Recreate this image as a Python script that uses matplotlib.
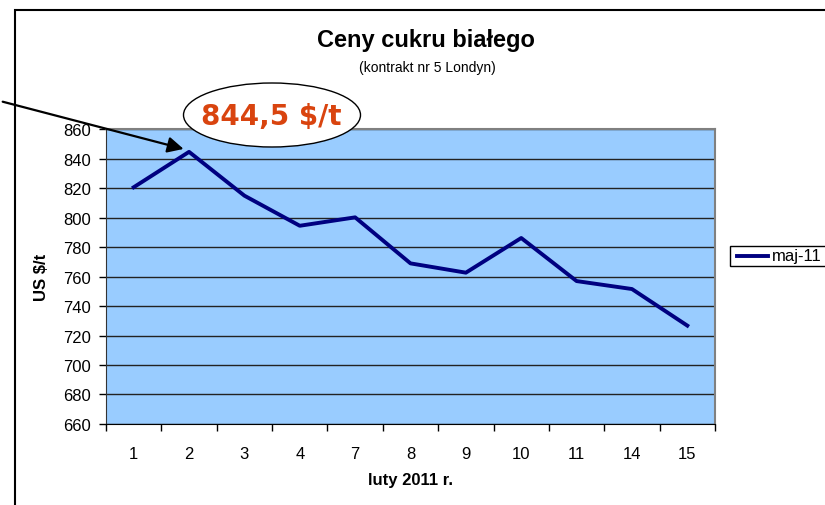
import numpy as np
import matplotlib
matplotlib.use("Agg")
import matplotlib.pyplot as plt
from matplotlib.patches import Ellipse, Rectangle
from matplotlib.lines import Line2D

plt.rcParams['font.family'] = ['Liberation Sans', 'DejaVu Sans']

# data
days = ["1", "2", "3", "4", "7", "8", "9", "10", "11", "14", "15"]
prices = [820.5, 844.5, 814.8, 794.4, 800.1, 768.9, 762.6, 786.1, 756.9, 751.5, 726.7]
series_name = "maj-11"
peak_label = "844,5 $/t"
yticks = np.arange(660, 861, 20)

W, H = 825, 506
fig = plt.figure(figsize=(W/100, H/100), dpi=100)
ax = fig.add_axes([106/W, 1-425/H, 609/W, 295/H])
ax.set_facecolor('#99CCFF')

x = np.arange(len(days))
line, = ax.plot(x, prices, color='#000080', lw=2.8, label=series_name, zorder=3)

ax.set_xlim(-0.5, len(days)-0.5)
ax.set_ylim(660, 860)
ax.set_yticks(yticks)
ax.tick_params(axis='y', length=5, width=1, pad=6, labelsize=12, colors='black')
# ticks at category boundaries, labels at centers
ax.set_xticks(np.arange(-0.5, len(days)), labels=[])
ax.set_xticks(x, labels=days, minor=True)
ax.tick_params(axis='x', which='major', length=5, width=1)
ax.tick_params(axis='x', which='minor', length=0, pad=16, labelsize=12)
ax.yaxis.grid(True, color='#222222', lw=1)
ax.set_axisbelow(True)
for s in ['top', 'right']:
    ax.spines[s].set_color('#808080')
    ax.spines[s].set_linewidth(1.5)
ax.spines['left'].set_color('#333333')
ax.spines['bottom'].set_color('black')

ax.set_xlabel("luty 2011 r.", fontsize=12, fontweight='bold', labelpad=8)
ax.set_ylabel("US $/t", fontsize=12, fontweight='bold', labelpad=10)

fig.text(426/W, 1-40/H, "Ceny cukru białego", ha='center', va='center', fontsize=17, fontweight='bold')
fig.text(427/W, 1-68/H, "(kontrakt nr 5 Londyn)", ha='center', va='center', fontsize=10)

# outer chart frame (cut off at right and bottom)
fig.add_artist(Rectangle((15/W, -0.1), 1.2, 1.1-11/H, transform=fig.transFigure,
                         fill=False, ec='black', lw=1.5, zorder=1))

# legend box runs past the right edge like the original
fig.add_artist(Rectangle((730/W, 1-267/H), 120/W, 20/H, transform=fig.transFigure,
                         fc='white', ec='black', lw=1, zorder=2))
fig.add_artist(Line2D([737/W, 768/W], [1-257/H, 1-257/H], transform=fig.transFigure,
                      color=line.get_color(), lw=2.8, zorder=3))
fig.text(772/W, 1-257/H, series_name, ha='left', va='center', fontsize=12, zorder=3)

# callout
ax.annotate('', xy=(0.95, 846), xycoords='data', xytext=(0, H-102), textcoords='figure pixels',
            arrowprops=dict(arrowstyle='-|>', color='black', lw=1.6, mutation_scale=24),
            annotation_clip=False, zorder=6)
fig.add_artist(Ellipse((272/W, 1-116/H), 177/W, 64/H, transform=fig.transFigure,
                       fc='white', ec='black', lw=1, zorder=5))
fig.text(271/W, 1-117/H, peak_label, ha='center', va='center', fontsize=20,
         fontweight='bold', family='DejaVu Sans', color='#D9440F', zorder=7)

fig.savefig('out.png', dpi=100)
